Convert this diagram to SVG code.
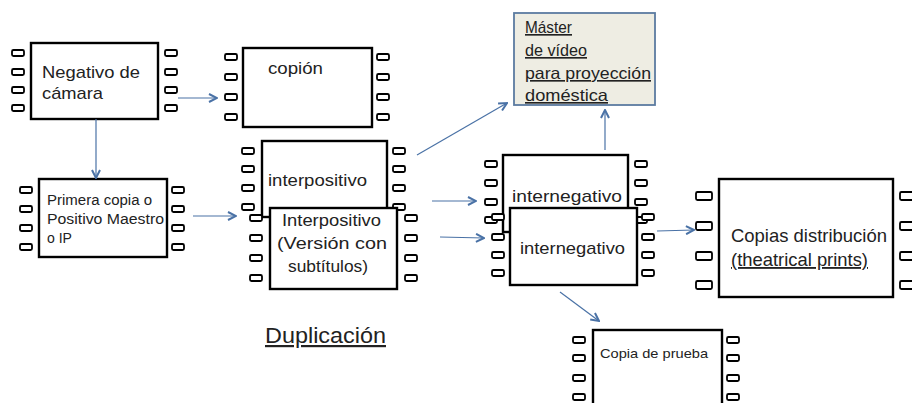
<svg xmlns="http://www.w3.org/2000/svg" width="912" height="403" viewBox="0 0 912 403">
<style>
.b{fill:#fff;stroke:#000;stroke-width:2.4}
.h{fill:#fff;stroke:#000;stroke-width:1.8}
.t{font-family:"Liberation Sans",Arial,sans-serif;fill:#222}
.u{text-decoration:underline}
.c{fill:none;stroke:#4a72a6;stroke-width:1.2}
</style>
<defs>
<marker id="ah" viewBox="0 0 10 10" refX="9" refY="5" markerWidth="10" markerHeight="10" markerUnits="userSpaceOnUse" orient="auto">
<path d="M1,1 L9,5 L1,9" fill="none" stroke="#4a72a6" stroke-width="2"/>
</marker>
</defs>
<rect width="912" height="403" fill="#fff"/>

<g id="n-negativo">
<rect class="b" x="31" y="43" width="127" height="76"/>
<rect class="h" x="12" y="50" width="12" height="6" rx="1.5"/>
<rect class="h" x="12" y="69" width="12" height="6" rx="1.5"/>
<rect class="h" x="12" y="87" width="12" height="6" rx="1.5"/>
<rect class="h" x="12" y="105" width="12" height="6" rx="1.5"/>
<rect class="h" x="165" y="50" width="12" height="6" rx="1.5"/>
<rect class="h" x="165" y="69" width="12" height="6" rx="1.5"/>
<rect class="h" x="165" y="87" width="12" height="6" rx="1.5"/>
<rect class="h" x="165" y="105" width="12" height="6" rx="1.5"/>
<text class="t" x="42" y="78" font-size="17" textLength="98" lengthAdjust="spacingAndGlyphs">Negativo de</text>
<text class="t" x="42" y="99" font-size="17" textLength="61" lengthAdjust="spacingAndGlyphs">cámara</text>
</g>

<g id="n-copion">
<rect class="b" x="243" y="48" width="129" height="79"/>
<rect class="h" x="225" y="54" width="12" height="6" rx="1.5"/>
<rect class="h" x="225" y="74" width="12" height="6" rx="1.5"/>
<rect class="h" x="225" y="94" width="12" height="6" rx="1.5"/>
<rect class="h" x="225" y="114" width="12" height="6" rx="1.5"/>
<rect class="h" x="377" y="54" width="12" height="6" rx="1.5"/>
<rect class="h" x="377" y="74" width="12" height="6" rx="1.5"/>
<rect class="h" x="377" y="94" width="12" height="6" rx="1.5"/>
<rect class="h" x="377" y="114" width="12" height="6" rx="1.5"/>
<text class="t" x="268" y="74" font-size="17" textLength="55" lengthAdjust="spacingAndGlyphs">copión</text>
</g>

<g id="n-primera">
<rect class="b" x="39" y="179" width="128" height="78"/>
<rect class="h" x="20" y="187" width="12" height="6" rx="1.5"/>
<rect class="h" x="20" y="206" width="12" height="6" rx="1.5"/>
<rect class="h" x="20" y="225" width="12" height="6" rx="1.5"/>
<rect class="h" x="20" y="244" width="12" height="6" rx="1.5"/>
<rect class="h" x="172" y="187" width="12" height="6" rx="1.5"/>
<rect class="h" x="172" y="206" width="12" height="6" rx="1.5"/>
<rect class="h" x="172" y="225" width="12" height="6" rx="1.5"/>
<rect class="h" x="172" y="244" width="12" height="6" rx="1.5"/>
<text class="t" x="47" y="205" font-size="14" textLength="105" lengthAdjust="spacingAndGlyphs">Primera copia o</text>
<text class="t" x="47" y="224" font-size="14" textLength="117" lengthAdjust="spacingAndGlyphs">Positivo Maestro</text>
<text class="t" x="47" y="243" font-size="14" textLength="25" lengthAdjust="spacingAndGlyphs">o IP</text>
</g>

<g id="n-interpositivo">
<rect class="b" x="262" y="141" width="125" height="76"/>
<rect class="h" x="242" y="148" width="12" height="6" rx="1.5"/>
<rect class="h" x="242" y="166" width="12" height="6" rx="1.5"/>
<rect class="h" x="242" y="185" width="12" height="6" rx="1.5"/>
<rect class="h" x="242" y="204" width="12" height="6" rx="1.5"/>
<rect class="h" x="393" y="148" width="12" height="6" rx="1.5"/>
<rect class="h" x="393" y="166" width="12" height="6" rx="1.5"/>
<rect class="h" x="393" y="185" width="12" height="6" rx="1.5"/>
<rect class="h" x="393" y="204" width="12" height="6" rx="1.5"/>
<text class="t" x="268" y="186" font-size="17" textLength="99" lengthAdjust="spacingAndGlyphs">interpositivo</text>
</g>

<g id="n-interpositivo-sub">
<rect class="b" x="270" y="208" width="127" height="81"/>
<rect class="h" x="250" y="215" width="12" height="6" rx="1.5"/>
<rect class="h" x="250" y="235" width="12" height="6" rx="1.5"/>
<rect class="h" x="250" y="255" width="12" height="6" rx="1.5"/>
<rect class="h" x="250" y="275" width="12" height="6" rx="1.5"/>
<rect class="h" x="405" y="215" width="12" height="6" rx="1.5"/>
<rect class="h" x="405" y="235" width="12" height="6" rx="1.5"/>
<rect class="h" x="405" y="255" width="12" height="6" rx="1.5"/>
<rect class="h" x="405" y="275" width="12" height="6" rx="1.5"/>
<text class="t" x="282" y="226" font-size="17" textLength="99" lengthAdjust="spacingAndGlyphs">Interpositivo</text>
<text class="t" x="277" y="249" font-size="17" textLength="110" lengthAdjust="spacingAndGlyphs">(Versión con</text>
<text class="t" x="288" y="272" font-size="17" textLength="80" lengthAdjust="spacingAndGlyphs">subtítulos)</text>
</g>

<g id="n-master">
<rect x="514" y="13" width="141" height="92" fill="#eeede3" stroke="#5b7ba0" stroke-width="1.8"/>
<text class="t u" x="525" y="33" font-size="16.5" textLength="47" lengthAdjust="spacingAndGlyphs">Máster</text>
<text class="t u" x="525" y="56" font-size="16.5" textLength="62" lengthAdjust="spacingAndGlyphs">de vídeo</text>
<text class="t u" x="525" y="79" font-size="16.5" textLength="126" lengthAdjust="spacingAndGlyphs">para proyección</text>
<text class="t u" x="525" y="101" font-size="16.5" textLength="83" lengthAdjust="spacingAndGlyphs">doméstica</text>
</g>

<g id="n-internegativo-1">
<rect class="b" x="503" y="155" width="125" height="77"/>
<rect class="h" x="485" y="161" width="12" height="6" rx="1.5"/>
<rect class="h" x="485" y="180" width="12" height="6" rx="1.5"/>
<rect class="h" x="485" y="199" width="12" height="6" rx="1.5"/>
<rect class="h" x="485" y="217" width="12" height="6" rx="1.5"/>
<rect class="h" x="635" y="161" width="12" height="6" rx="1.5"/>
<rect class="h" x="635" y="180" width="12" height="6" rx="1.5"/>
<rect class="h" x="635" y="199" width="12" height="6" rx="1.5"/>
<rect class="h" x="635" y="217" width="12" height="6" rx="1.5"/>
<text class="t" x="512" y="202" font-size="17" textLength="110" lengthAdjust="spacingAndGlyphs">internegativo</text>
</g>

<g id="n-internegativo-2">
<rect class="b" x="510" y="208" width="127" height="77"/>
<rect class="h" x="492" y="214" width="12" height="6" rx="1.5"/>
<rect class="h" x="492" y="234" width="12" height="6" rx="1.5"/>
<rect class="h" x="492" y="252" width="12" height="6" rx="1.5"/>
<rect class="h" x="492" y="270" width="12" height="6" rx="1.5"/>
<rect class="h" x="642" y="214" width="12" height="6" rx="1.5"/>
<rect class="h" x="642" y="234" width="12" height="6" rx="1.5"/>
<rect class="h" x="642" y="252" width="12" height="6" rx="1.5"/>
<rect class="h" x="642" y="270" width="12" height="6" rx="1.5"/>
<text class="t" x="520" y="254" font-size="17" textLength="105" lengthAdjust="spacingAndGlyphs">internegativo</text>
</g>

<g id="n-copias">
<rect class="b" x="719" y="179" width="174" height="118"/>
<rect class="h" x="696" y="192" width="16" height="8" rx="1.5"/>
<rect class="h" x="696" y="222" width="16" height="8" rx="1.5"/>
<rect class="h" x="696" y="252" width="16" height="8" rx="1.5"/>
<rect class="h" x="696" y="281" width="16" height="8" rx="1.5"/>
<rect class="h" x="900" y="192" width="16" height="8" rx="1.5"/>
<rect class="h" x="900" y="222" width="16" height="8" rx="1.5"/>
<rect class="h" x="900" y="252" width="16" height="8" rx="1.5"/>
<rect class="h" x="900" y="281" width="16" height="8" rx="1.5"/>
<text class="t" x="731" y="242" font-size="18.5" textLength="156" lengthAdjust="spacingAndGlyphs">Copias distribución</text>
<text class="t u" x="731" y="266" font-size="18.5" textLength="137" lengthAdjust="spacingAndGlyphs">(theatrical prints)</text>
</g>

<g id="n-prueba">
<rect class="b" x="593" y="330" width="129" height="82"/>
<rect class="h" x="573" y="337" width="12" height="6" rx="1.5"/>
<rect class="h" x="573" y="355" width="12" height="6" rx="1.5"/>
<rect class="h" x="573" y="375" width="12" height="6" rx="1.5"/>
<rect class="h" x="573" y="394" width="12" height="6" rx="1.5"/>
<rect class="h" x="727" y="337" width="12" height="6" rx="1.5"/>
<rect class="h" x="727" y="355" width="12" height="6" rx="1.5"/>
<rect class="h" x="727" y="375" width="12" height="6" rx="1.5"/>
<rect class="h" x="727" y="394" width="12" height="6" rx="1.5"/>
<text class="t" x="600" y="358" font-size="13.5" textLength="108" lengthAdjust="spacingAndGlyphs">Copia de prueba</text>
</g>

<g id="label-duplicacion">
<text class="t u" x="265" y="343" font-size="22" textLength="121" lengthAdjust="spacingAndGlyphs">Duplicación</text>
</g>

<g id="connectors">
<line class="c" x1="178" y1="98" x2="217" y2="98" marker-end="url(#ah)"/>
<line class="c" x1="96" y1="119" x2="96" y2="178" marker-end="url(#ah)"/>
<line class="c" x1="193" y1="216" x2="236" y2="216" marker-end="url(#ah)"/>
<line class="c" x1="417" y1="155" x2="507" y2="103" marker-end="url(#ah)"/>
<line class="c" x1="432" y1="201" x2="476" y2="201" marker-end="url(#ah)"/>
<line class="c" x1="440" y1="237" x2="484" y2="238" marker-end="url(#ah)"/>
<line class="c" x1="605" y1="150" x2="605" y2="110" marker-end="url(#ah)"/>
<line class="c" x1="657" y1="231" x2="694" y2="230" marker-end="url(#ah)"/>
<line class="c" x1="560" y1="292" x2="599" y2="321" marker-end="url(#ah)"/>
</g>
</svg>
